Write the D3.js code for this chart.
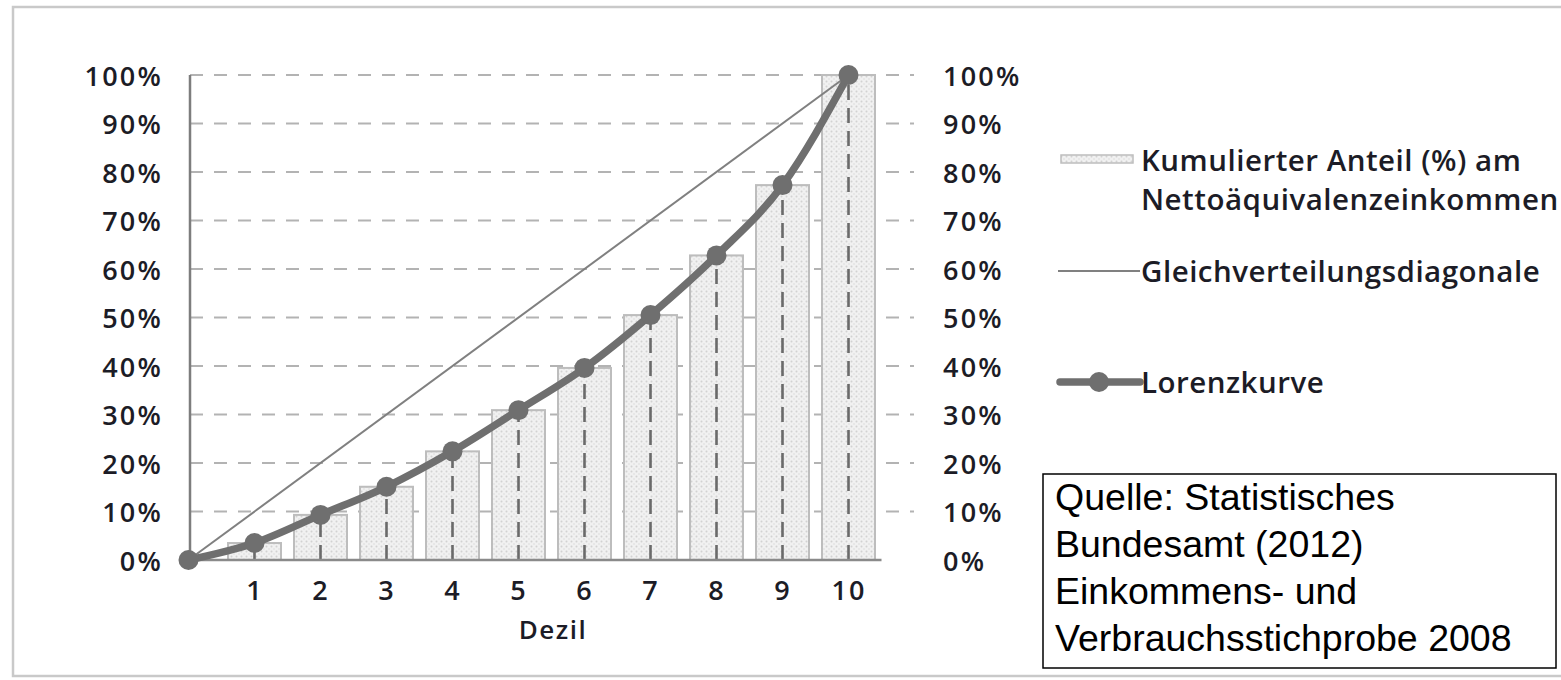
<!DOCTYPE html>
<html>
<head>
<meta charset="utf-8">
<script src="https://cdn.jsdelivr.net/npm/d3@7"></script>
<style>
  html, body { margin: 0; padding: 0; background: #ffffff; }
  svg { display: block; }
  .lbl { font-family: "Open Sans", "DejaVu Sans", sans-serif; font-weight: 600; fill: #1c1c26; }
  .src { font-family: "Liberation Sans", Arial, sans-serif; fill: #000; }
</style>
</head>
<body>
<svg id="chart" width="1561" height="680"></svg>
<script>
// Deciles of the population (x) and cumulative income share in percent
const deciles = [1, 2, 3, 4, 5, 6, 7, 8, 9, 10];
const cumulativeShare = [3.5, 9.3, 15.1, 22.4, 30.9, 39.6, 50.5, 62.8, 77.3, 100];

// Lorenz curve starts at the origin
const lorenzX = [0, ...deciles];
const lorenzY = [0, ...cumulativeShare];

// Line of perfect equality
const equalityX = [0, 10];
const equalityY = [0, 100];

// Percentage ticks shown on both vertical axes
const percentTicks = [0, 10, 20, 30, 40, 50, 60, 70, 80, 90, 100];

const xTitle = "Dezil";
const legendBars = ["Kumulierter Anteil (%) am", "Nettoäquivalenzeinkommen"];
const legendDiagonal = "Gleichverteilungsdiagonale";
const legendLorenz = "Lorenzkurve";
const sourceLines = ["Quelle: Statistisches", "Bundesamt (2012)", "Einkommens- und", "Verbrauchsstichprobe 2008"];

const svg = d3.select("#chart");

// outer frame
svg.append("rect")
  .attr("x", 13).attr("y", 7).attr("width", 1560).attr("height", 669)
  .attr("fill", "none").attr("stroke", "#c9c9c9").attr("stroke-width", 2.5);

const plotLeft = 190, plotRight = 914, plotTop = 75, plotBottom = 560;
const x = d3.scaleLinear().domain([0, 11]).range([188.5, 914.5]);
const y = d3.scaleLinear().domain([0, 100]).range([plotBottom, plotTop]);
const barWidth = 53;

// dotted fill for the bars
const defs = svg.append("defs");
const pat = defs.append("pattern")
  .attr("id", "dots").attr("patternUnits", "userSpaceOnUse")
  .attr("width", 5).attr("height", 5);
pat.append("rect").attr("width", 5).attr("height", 5).attr("fill", "#f1f1f1");
pat.append("circle").attr("cx", 1.5).attr("cy", 1.5).attr("r", 1).attr("fill", "#d2d2d2");
pat.append("circle").attr("cx", 4).attr("cy", 4).attr("r", 0.8).attr("fill", "#dcdcdc");

// horizontal dashed gridlines
svg.append("g").selectAll("line")
  .data(percentTicks.filter(d => d > 0))
  .join("line")
  .attr("x1", plotLeft).attr("x2", plotRight)
  .attr("y1", d => y(d)).attr("y2", d => y(d))
  .attr("stroke", "#b3b3b3").attr("stroke-width", 2.2)
  .attr("stroke-dasharray", "13,11");

// cumulative share bars
svg.append("g").selectAll("rect")
  .data(deciles)
  .join("rect")
  .attr("x", (d) => x(d) - barWidth / 2)
  .attr("width", barWidth)
  .attr("y", (d, i) => y(cumulativeShare[i]))
  .attr("height", (d, i) => y(0) - y(cumulativeShare[i]))
  .attr("fill", "url(#dots)")
  .attr("stroke", "#bdbdbd").attr("stroke-width", 2);

// drop lines from each Lorenz point to the axis
svg.append("g").selectAll("line")
  .data(deciles)
  .join("line")
  .attr("x1", d => x(d)).attr("x2", d => x(d))
  .attr("y1", y(0)).attr("y2", (d, i) => y(cumulativeShare[i]))
  .attr("stroke", "#6a6a6a").attr("stroke-width", 2.6)
  .attr("stroke-dasharray", "15,8");

// axis lines
svg.append("line")
  .attr("x1", plotLeft).attr("x2", plotLeft)
  .attr("y1", plotTop).attr("y2", plotBottom)
  .attr("stroke", "#7d7d7d").attr("stroke-width", 2.5);
svg.append("line")
  .attr("x1", plotLeft).attr("x2", x(10.5))
  .attr("y1", plotBottom).attr("y2", plotBottom)
  .attr("stroke", "#8a8a8a").attr("stroke-width", 2.5);

// equality diagonal
svg.append("path")
  .datum(equalityX.map((v, i) => [v, equalityY[i]]))
  .attr("d", d3.line().x(d => x(d[0])).y(d => y(d[1])))
  .attr("fill", "none").attr("stroke", "#808080").attr("stroke-width", 2);

// Lorenz curve
const lorenzPts = lorenzX.map((v, i) => [v, lorenzY[i]]);
svg.append("path")
  .datum(lorenzPts)
  .attr("d", d3.line().x(d => x(d[0])).y(d => y(d[1])).curve(d3.curveMonotoneX))
  .attr("fill", "none").attr("stroke", "#6f6f6f").attr("stroke-width", 7.5)
  .attr("stroke-linejoin", "round");
svg.append("g").selectAll("circle")
  .data(lorenzPts)
  .join("circle")
  .attr("cx", d => x(d[0])).attr("cy", d => y(d[1]))
  .attr("r", 10).attr("fill", "#6f6f6f");

// left axis labels
const axisFont = 27, axisSpacing = 2.2;
const leftAxis = svg.append("g")
  .attr("transform", `translate(${plotLeft},0)`)
  .call(d3.axisLeft(y).tickValues(percentTicks).tickFormat(d => d + "%").tickSize(0).tickPadding(27));
leftAxis.select(".domain").remove();
leftAxis.selectAll("text").attr("class", "lbl").attr("font-size", axisFont)
  .attr("letter-spacing", axisSpacing).attr("dy", "0.38em");

// right axis labels
const rightAxis = svg.append("g")
  .attr("transform", `translate(${plotRight},0)`)
  .call(d3.axisRight(y).tickValues(percentTicks).tickFormat(d => d + "%").tickSize(0).tickPadding(29));
rightAxis.select(".domain").remove();
rightAxis.selectAll("text").attr("class", "lbl").attr("font-size", axisFont)
  .attr("letter-spacing", axisSpacing).attr("dy", "0.38em");

// decile labels
const bottomAxis = svg.append("g")
  .attr("transform", `translate(0,${plotBottom})`)
  .call(d3.axisBottom(x).tickValues(deciles).tickFormat(d3.format("d")).tickSize(0).tickPadding(0));
bottomAxis.select(".domain").remove();
bottomAxis.selectAll("text").attr("class", "lbl").attr("font-size", axisFont)
  .attr("letter-spacing", 2).attr("y", 30).attr("dy", "0.38em");

svg.append("text").attr("class", "lbl")
  .attr("x", (x(0) + x(10.5)) / 2 + 18).attr("y", 630).attr("dy", "0.36em")
  .attr("text-anchor", "middle").attr("font-size", 26).attr("letter-spacing", 1.5)
  .text(xTitle);

// legend
const lg = svg.append("g");
const lgX = 1058, lgText = 1141, lgFont = 29.5, lgSpacing = 0.5;
lg.append("rect").attr("x", lgX + 3).attr("y", 155).attr("width", 72).attr("height", 8)
  .attr("fill", "url(#dots)").attr("stroke", "#bdbdbd").attr("stroke-width", 1.5);
lg.append("text").attr("class", "lbl").attr("font-size", lgFont).attr("letter-spacing", lgSpacing)
  .attr("x", lgText).attr("y", 160).attr("dy", "0.36em").text(legendBars[0]);
lg.append("text").attr("class", "lbl").attr("font-size", lgFont).attr("letter-spacing", lgSpacing)
  .attr("x", lgText).attr("y", 199).attr("dy", "0.36em").text(legendBars[1]);

lg.append("line").attr("x1", lgX).attr("x2", lgX + 82).attr("y1", 271).attr("y2", 271)
  .attr("stroke", "#808080").attr("stroke-width", 2);
lg.append("text").attr("class", "lbl").attr("font-size", lgFont).attr("letter-spacing", lgSpacing)
  .attr("x", lgText).attr("y", 271).attr("dy", "0.36em").text(legendDiagonal);

lg.append("line").attr("x1", lgX + 2).attr("x2", lgX + 82).attr("y1", 382).attr("y2", 382)
  .attr("stroke", "#6f6f6f").attr("stroke-width", 7.5).attr("stroke-linecap", "round");
lg.append("circle").attr("cx", lgX + 41).attr("cy", 382).attr("r", 10).attr("fill", "#6f6f6f");
lg.append("text").attr("class", "lbl").attr("font-size", lgFont).attr("letter-spacing", lgSpacing)
  .attr("x", lgText).attr("y", 382).attr("dy", "0.36em").text(legendLorenz);

// source note
const sb = svg.append("g");
sb.append("rect").attr("x", 1043).attr("y", 474).attr("width", 513).attr("height", 194)
  .attr("fill", "#ffffff").attr("stroke", "#000").attr("stroke-width", 1.5);
sb.selectAll("text")
  .data(sourceLines)
  .join("text")
  .attr("class", "src")
  .attr("x", 1055)
  .attr("y", (d, i) => 510 + i * 47)
  .attr("font-size", 37.5)
  .text(d => d);
</script>
</body>
</html>
